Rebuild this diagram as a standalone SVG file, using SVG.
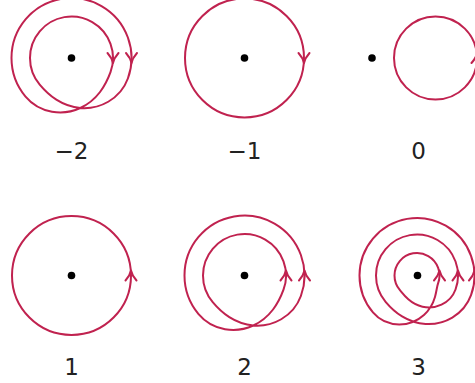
<svg xmlns="http://www.w3.org/2000/svg" width="475" height="383" viewBox="0 0 475 383">
<style>
.curve{fill:none;stroke:#c0224f;stroke-width:2;stroke-linecap:round;stroke-linejoin:round}
.dot{fill:#000}
.lbl{font-family:"DejaVu Sans",sans-serif;font-size:23px;text-anchor:middle;fill:#222}
</style>
<defs>
<path id="ahDown" class="curve" d="M -5.5 -10 Q -1 -5 0 0 Q 1 -5 5.5 -10"/>
<path id="ahUp" class="curve" d="M -5.5 10 Q -1 5 0 0 Q 1 5 5.5 10"/>
<path id="two" class="curve" d="M 56.381 20.521 C 52.800 30.362 45.460 38.669 36.709 43.748 C 27.960 48.827 17.937 50.718 8.813 49.979 C -0.312 49.240 -8.496 45.993 -15.183 41.714 C -21.870 37.434 -27.135 32.225 -31.791 26.676 A 41.5 41.5 0 1 1 38.997 14.194 C 36.520 21.000 33.354 27.697 28.534 34.005 C 23.714 40.314 17.134 46.164 8.813 49.979 C 0.491 53.794 -9.573 55.444 -19.533 53.665 C -29.492 51.885 -39.231 46.589 -45.962 38.567 A 60 60 0 1 1 56.381 20.521 Z"/>
</defs>
<rect width="475" height="383" fill="#fff"/>
<g id="w-2" transform="translate(71.5,58)">
<use href="#two"/>
<use href="#ahDown" x="41.5" y="5"/>
<use href="#ahDown" x="60" y="5"/>
<circle class="dot" cx="0" cy="0" r="3.8"/>
<text class="lbl" x="0" y="101">−2</text>
</g>
<g id="w-1" transform="translate(244.5,58)">
<circle class="curve" cx="0" cy="0" r="59.5"/>
<use href="#ahDown" x="59.5" y="5"/>
<circle class="dot" cx="0" cy="0" r="3.8"/>
<text class="lbl" x="0" y="101">−1</text>
</g>
<g id="w0">
<circle class="curve" cx="435.5" cy="58" r="41.5"/>
<use href="#ahUp" x="477" y="53"/>
<circle class="dot" cx="372" cy="58" r="3.8"/>
<text class="lbl" x="418.5" y="159">0</text>
</g>
<g id="w1" transform="translate(71.5,275.5)">
<circle class="curve" cx="0" cy="0" r="59.5"/>
<use href="#ahUp" x="59.5" y="-5"/>
<circle class="dot" cx="0" cy="0" r="3.8"/>
<text class="lbl" x="0" y="99.5">1</text>
</g>
<g id="w2" transform="translate(244.5,275.5)">
<use href="#two"/>
<use href="#ahUp" x="41.5" y="-5"/>
<use href="#ahUp" x="60" y="-5"/>
<circle class="dot" cx="0" cy="0" r="3.8"/>
<text class="lbl" x="0" y="99.5">2</text>
</g>
<g id="w3" transform="translate(417,275.5)">
<path class="curve" d="M 21.143 7.696 C 19.800 11.386 19.608 15.774 17.978 21.426 C 16.348 27.077 13.062 33.872 6.946 39.392 C 0.830 44.913 -8.140 48.916 -17.796 48.893 C -27.451 48.870 -37.596 44.648 -44.047 36.960 A 57.5 57.5 0 1 1 54.032 19.666 C 50.600 29.096 43.640 37.096 35.303 42.073 C 26.966 47.050 17.376 49.040 8.552 48.502 C -0.271 47.964 -8.287 45.005 -14.905 40.950 C -21.523 36.895 -26.808 31.836 -31.408 26.354 A 41 41 0 1 1 38.527 14.023 C 36.080 20.747 30.706 26.246 24.496 29.193 C 18.286 32.140 11.372 32.583 5.513 31.268 C -0.345 29.952 -5.113 27.005 -8.684 23.860 C -12.256 20.714 -14.712 17.471 -17.236 14.463 A 22.5 22.5 0 1 1 21.143 7.696 Z"/>
<use href="#ahUp" x="22.5" y="-5"/>
<use href="#ahUp" x="41" y="-5"/>
<use href="#ahUp" x="57.5" y="-5"/>
<circle class="dot" cx="0.5" cy="0" r="3.8"/>
<text class="lbl" x="1.5" y="99.5">3</text>
</g>
</svg>
